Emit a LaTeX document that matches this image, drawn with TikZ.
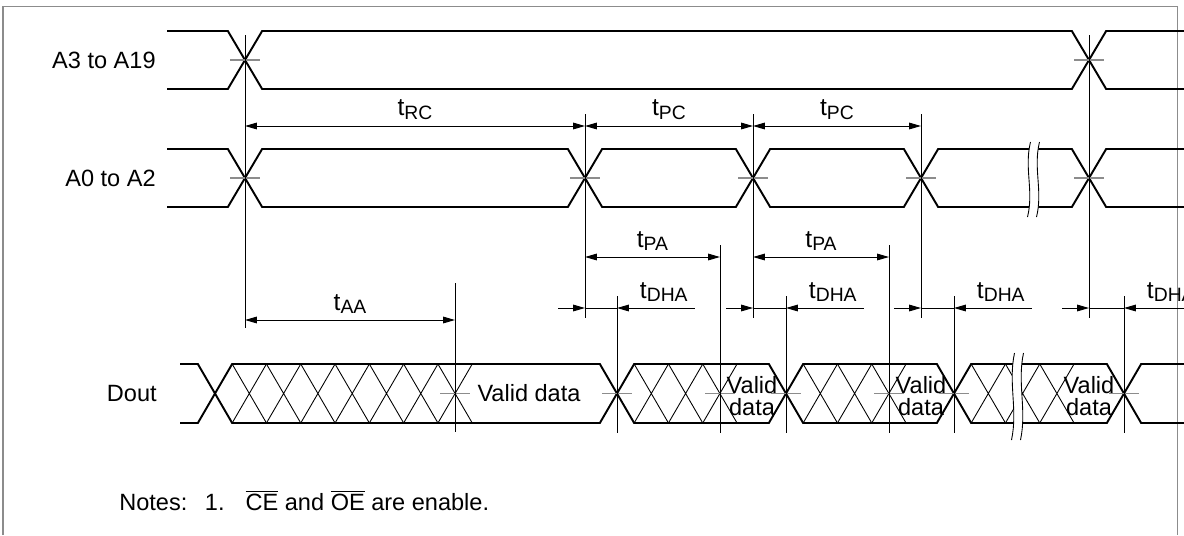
\documentclass[tikz,border=0pt]{standalone}
\usepackage{fontspec}
\setmainfont{Liberation Sans}
\usetikzlibrary{arrows.meta, calc, positioning}

% timing symbol with lowered subscript
\newcommand{\tsym}[1]{{\fontsize{14}{15}\selectfont t}\raisebox{-2pt}{\fontsize{11}{12}\selectfont #1}}
% wavy break across a bus: x, top, bottom
\newcommand{\timebreak}[3]{%
  \fill[white] (#1+1.5,#2) .. controls (#1-5,{#2+0.35*(#3-#2)}) and (#1+5,{#2+0.65*(#3-#2)}) .. (#1-1.5,#3)
    -- (#1+7.5,#3) .. controls (#1+14,{#2+0.65*(#3-#2)}) and (#1+4,{#2+0.35*(#3-#2)}) .. (#1+10.5,#2) -- cycle;
  \draw[line width=0.5pt] (#1+1.5,#2) .. controls (#1-5,{#2+0.35*(#3-#2)}) and (#1+5,{#2+0.65*(#3-#2)}) .. (#1-1.5,#3);
  \draw[line width=0.5pt] (#1+10.5,#2) .. controls (#1+4,{#2+0.35*(#3-#2)}) and (#1+14,{#2+0.65*(#3-#2)}) .. (#1+7.5,#3);
}
% don't-care cells: start x, count, top, bottom
\newcommand{\hatchcells}[4]{%
  \foreach \k in {1,...,#2}
    \draw[hatch] ({#1+(\k-1)*34.3},#3) -- ({#1+\k*34.3},#4)
                 ({#1+(\k-1)*34.3},#4) -- ({#1+\k*34.3},#3);
}

\begin{document}
\begin{tikzpicture}[x=0.02cm, y=-0.02cm]
	\tikzstyle{bus}=[line width=1.1pt, black, line join=miter]
	\tikzstyle{hatch}=[line width=0.5pt, black]
	\tikzstyle{guide}=[line width=0.55pt, black]
	\tikzstyle{xmark}=[line width=1.1pt, black!45]
	\tikzstyle{dim}=[line width=0.55pt, {Triangle[length=6.8pt,width=3.8pt]}-{Triangle[length=6.8pt,width=3.8pt]}]
	\tikzstyle{dimto}=[line width=0.55pt, -{Triangle[length=6.8pt,width=3.8pt]}]
	\tikzstyle{dimfrom}=[line width=0.55pt, {Triangle[length=6.8pt,width=3.8pt]}-]
	\tikzstyle{tlab}=[midway, above=3.4pt, inner sep=0pt]
	\tikzstyle{signame}=[anchor=east, inner sep=0pt, font=\fontsize{13.4}{15}\selectfont]
	\tikzstyle{txt}=[inner sep=0pt, font=\fontsize{13.4}{13}\selectfont, align=center]

	\useasboundingbox (0,0) rectangle (1184,535);
	\clip (0,0) rectangle (1184,535);

	% frame
	\draw[black!45, line width=0.8pt] (3,535) -- (3,6.5) -- (1177.5,6.5) -- (1177.5,535);

	% signal names
	\node[signame] (a3) at (156,60) {A3 to A19};
	\node[signame] (a0) at (156,178) {A0 to A2};
	\node[signame] (dout) at (157,393.5) {Dout};

	% A3 to A19
	\draw[bus] (167,31) -- (227.85,31) -- (262.15,89) -- (1071.85,89) -- (1106.15,31) -- (1184,31);
	\draw[bus] (167,89) -- (227.85,89) -- (262.15,31) -- (1071.85,31) -- (1106.15,89) -- (1184,89);

	% A0 to A2
	\draw[bus] (167,149) -- (227.85,149) -- (262.15,207) -- (567.85,207) -- (602.15,149) -- (735.85,149)
		-- (770.15,207) -- (903.85,207) -- (938.15,149) -- (1071.85,149) -- (1106.15,207) -- (1184,207);
	\draw[bus] (167,207) -- (227.85,207) -- (262.15,149) -- (567.85,149) -- (602.15,207) -- (735.85,207)
		-- (770.15,149) -- (903.85,149) -- (938.15,207) -- (1071.85,207) -- (1106.15,149) -- (1184,149);
	\timebreak{1029}{142}{217}

	% Dout
	\draw[bus] (180,364) -- (197.85,364) -- (232.15,423) -- (599.85,423) -- (634.15,364) -- (768.85,364)
		-- (803.15,423) -- (936.85,423) -- (971.15,364) -- (1106.85,364) -- (1141.15,423) -- (1184,423);
	\draw[bus] (180,423) -- (197.85,423) -- (232.15,364) -- (599.85,364) -- (634.15,423) -- (768.85,423)
		-- (803.15,364) -- (936.85,364) -- (971.15,423) -- (1106.85,423) -- (1141.15,364) -- (1184,364);
	\hatchcells{232.15}{7}{364}{423}
	\hatchcells{634.15}{3}{364}{423}
	\hatchcells{803.15}{3}{364}{423}
	\hatchcells{971.15}{3}{364}{423}
	\timebreak{1013}{353}{440}

	\node[txt] (vd0) at (529,393.5) {Valid data};
	\node[txt] (vd1) at (752,396) {Valid\\data};
	\node[txt] (vd2) at (921,396) {Valid\\data};
	\node[txt] (vd3) at (1089,396) {Valid\\data};

	% crossing marks
	\foreach \x/\y in {245/60, 1089/60, 245/178, 585/178, 753/178, 921/178, 1089/178,
		455/393.5, 617/393.5, 720/393.5, 786/393.5, 889/393.5, 954/393.5, 1124/393.5}
		\draw[xmark] (\x-15,\y) -- (\x+15,\y);

	% reference lines
	\draw[guide] (245,35) -- (245,328);
	\draw[guide] (1089,35) -- (1089,318);
	\foreach \x in {585,753,921} \draw[guide] (\x,114) -- (\x,318);
	\draw[guide] (455,283) -- (455,432);
	\foreach \x in {617,786,954,1124} \draw[guide] (\x,296) -- (\x,433);
	\foreach \x in {720,889} \draw[guide] (\x,245) -- (\x,433);

	% cycle times
	\coordinate (pc0) at (245,126);
	\coordinate (pc1) at (585,126);
	\coordinate (pc2) at (753,126);
	\coordinate (pc3) at (921,126);
	\draw[dim] (pc0) -- (pc1) node[tlab] (lrc) {\tsym{RC}};
	\draw[dim] (pc1) -- (pc2) node[tlab] (lpc1) {\tsym{PC}};
	\draw[dim] (pc2) -- (pc3) node[tlab] (lpc2) {\tsym{PC}};

	% page access
	\coordinate (pa1s) at (585,257);
	\coordinate (pa1e) at (720,257);
	\coordinate (pa2s) at (753,257);
	\coordinate (pa2e) at (889,257);
	\draw[dim] (pa1s) -- (pa1e) node[tlab] (lpa1) {\tsym{PA}};
	\draw[dim] (pa2s) -- (pa2e) node[tlab] (lpa2) {\tsym{PA}};

	% address access
	\coordinate (aas) at (245,320);
	\coordinate (aae) at (455,320);
	\draw[dim] (aas) -- (aae) node[tlab] (laa) {\tsym{AA}};

	% data hold
	\foreach \a/\d/\n in {585/617/1, 753/786/2, 921/954/3, 1089/1124/4} {
		\coordinate (dha\n in) at (\a-27,308);
		\coordinate (dha\n a) at (\a,308);
		\coordinate (dha\n d) at (\d,308);
		\coordinate (dha\n out) at (\d+78,308);
		\draw[dimto] (dha\n in) -- (dha\n a);
		\draw[guide] (dha\n a) -- (dha\n d);
		\draw[dimfrom] (dha\n d) -- (dha\n out) node[tlab, pos=0.6] (ldha\n) {\tsym{DHA}};
	}

	% note
	\node[anchor=base west, inner sep=0pt, font=\fontsize{13.4}{15}\selectfont] (note) at (119,510)
		{Notes:\hspace{10pt}1.\hspace{12pt}$\overline{\hbox{CE}}$ and $\overline{\hbox{OE}}$ are enable.};
\end{tikzpicture}
\end{document}
